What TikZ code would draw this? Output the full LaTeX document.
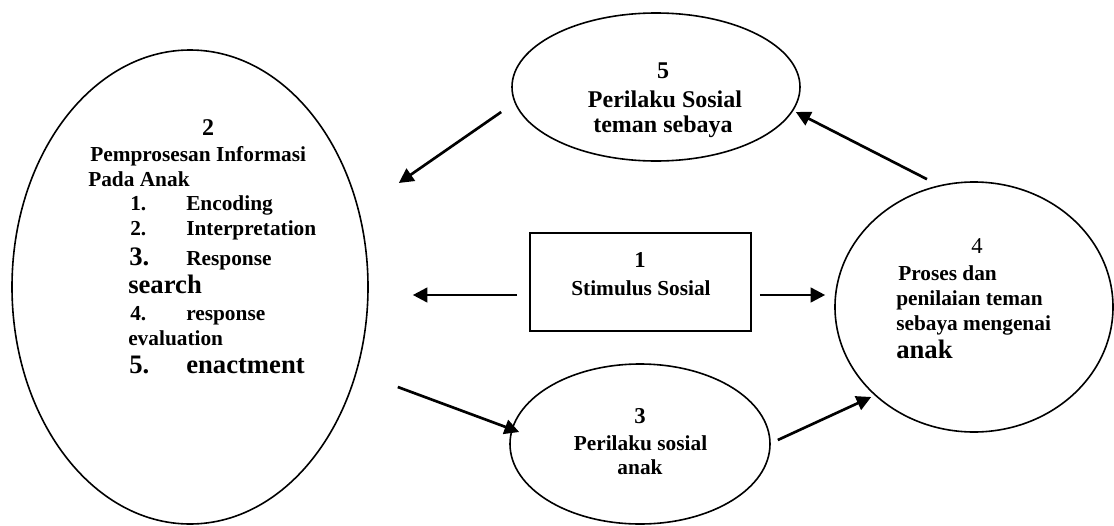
\documentclass[tikz,border=0pt]{standalone}
\usepackage{fontspec}
\setmainfont{Liberation Serif}
\usetikzlibrary{arrows.meta, shapes.geometric, calc}

\tikzset{
  bubble/.style={draw, ellipse, line width=1.2pt, inner sep=0pt},
  stimbox/.style={draw, rectangle, line width=1.2pt, inner sep=0pt},
  arr/.style={line width=2pt, -{Triangle[length=11pt,width=11pt]}},
  txt/.style={inner sep=0pt, font=\fontsize{16}{19}\selectfont\bfseries},
  midtxt/.style={inner sep=0pt, font=\fontsize{18}{21}\selectfont\bfseries},
  bigtxt/.style={inner sep=0pt, font=\fontsize{20}{24}\selectfont\bfseries},
}

\begin{document}
\begin{tikzpicture}[x=0.75pt, y=-0.75pt]
    \useasboundingbox (0,0) rectangle (1114,525);

    % Shapes
    \node[bubble, minimum width=267pt, minimum height=355.5pt] (info) at (190,287) {};
    \node[bubble, minimum width=216pt, minimum height=111pt] (peer) at (656,87) {};
    \node[bubble, minimum width=208.5pt, minimum height=187.5pt] (eval) at (974,307) {};
    \node[bubble, minimum width=195pt, minimum height=120pt] (beh) at (640,444) {};
    \node[stimbox, minimum width=165.75pt, minimum height=73.5pt] (stim) at (640.5,282) {};

    % Text of 2
    \node[midtxt, anchor=base] (infonum) at (208,135.5) {2};
    \node[txt, anchor=base west] (infohead) at (90,161) {Pemprosesan Informasi};
    \node[txt, anchor=base west] (infohead2) at (88,186) {Pada Anak};
    \node[txt, anchor=base west] (n1) at (130,210.7) {1.};
    \node[txt, anchor=base west] (i1) at (186,210.7) {Encoding};
    \node[txt, anchor=base west] (n2) at (130,235) {2.};
    \node[txt, anchor=base west] (i2) at (186,235) {Interpretation};
    \node[bigtxt, anchor=base west] (n3) at (129,265) {3.};
    \node[txt, anchor=base west] (i3) at (186,265) {Response};
    \node[bigtxt, anchor=base west] (i3b) at (128,293) {search};
    \node[txt, anchor=base west] (n4) at (130,320) {4.};
    \node[txt, anchor=base west] (i4) at (186,320) {response};
    \node[txt, anchor=base west] (i4b) at (128,345) {evaluation};
    \node[bigtxt, anchor=base west] (n5) at (129,373) {5.};
    \node[bigtxt, anchor=base west] (i5) at (186,373) {enactment};

    % Text of 5
    \node[midtxt, anchor=base] (peernum) at (663,78) {5};
    \node[midtxt, anchor=base] (peerl1) at (665,107) {Perilaku Sosial};
    \node[midtxt, anchor=base] (peerl2) at (663,132) {teman sebaya};

    % Text of 1
    \node[txt, font=\fontsize{17}{20}\selectfont\bfseries, anchor=base] (stimnum) at (640,267) {1};
    \node[txt, anchor=base] (stiml1) at (641,295) {Stimulus Sosial};

    % Text of 3
    \node[txt, font=\fontsize{17}{20}\selectfont\bfseries, anchor=base] (behnum) at (640,423) {3};
    \node[txt, anchor=base] (behl1) at (640.5,450) {Perilaku sosial};
    \node[txt, anchor=base] (behl2) at (640,474) {anak};

    % Text of 4
    \node[inner sep=0pt, font=\fontsize{17}{20}\selectfont, anchor=base] (evalnum) at (977,253) {4};
    \node[txt, anchor=base west] (evall1) at (898,280) {Proses dan};
    \node[txt, anchor=base west] (evall2) at (896,305) {penilaian teman};
    \node[txt, anchor=base west] (evall3) at (896,330) {sebaya mengenai};
    \node[bigtxt, anchor=base west] (evall4) at (896,358) {anak};

    % Arrows
    \draw[arr] ($(stim.west)+(-12,13)$) -- ($(info.east)+(44,8)$);
    \draw[arr] ($(stim.east)+(8,13)$) -- ($(eval.west)+(-9,-12)$);
    \draw[arr] ($(info.east)+(29,100)$) -- ($(beh.west)+(10,-12)$);
    \draw[arr] ($(beh.east)+(7,-4)$) -- ($(eval.west)+(37,90)$);
    \draw[arr] ($(eval.north)+(-47,-2)$) -- ($(peer.east)+(-5,25)$);
    \draw[arr] ($(peer.west)+(-10,25)$) -- ($(info.east)+(30,-104)$);
\end{tikzpicture}
\end{document}
